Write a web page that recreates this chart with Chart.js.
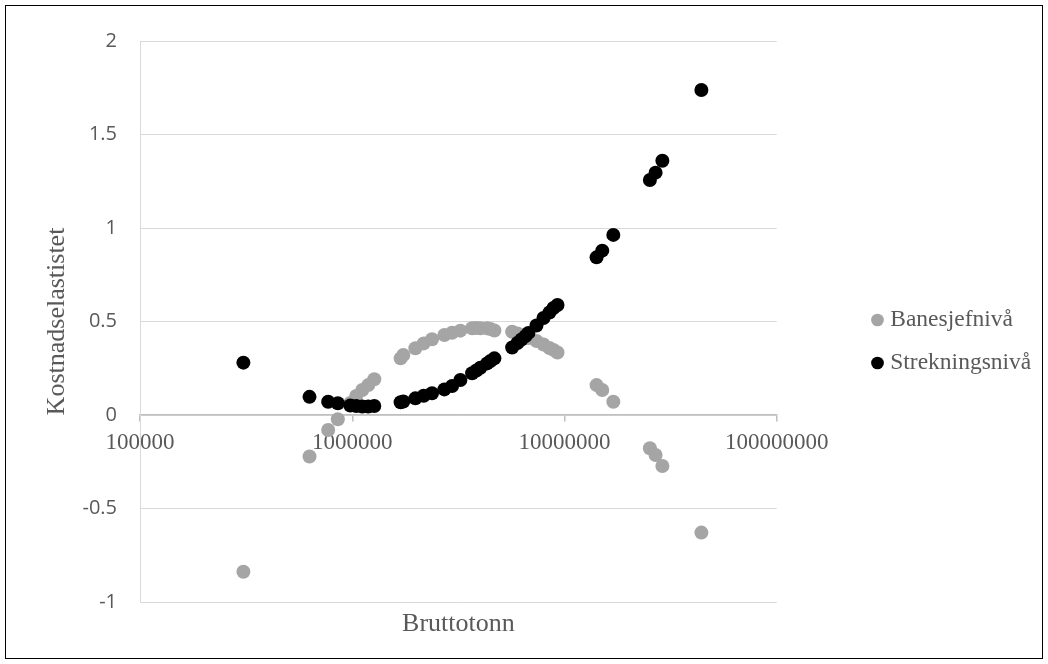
<!DOCTYPE html>
<html>
<head>
<meta charset="utf-8">
<script src="https://cdn.jsdelivr.net/npm/chart.js@4.4.1/dist/chart.umd.min.js"></script>
<style>
  html, body { margin: 0; padding: 0; background: #fff; overflow: hidden; }
  canvas { display: block; }
</style>
</head>
<body>
<canvas id="chart" width="1048" height="664"></canvas>
<script>
// Gross tonnage per observation (shared by both series)
const bruttotonn = [
  307000, 629000, 770000, 855000, 979000, 1044000, 1115000, 1190000, 1270000,
  1690000, 1740000, 1983000, 2170000, 2376000, 2716000, 2953000, 3231000, 3670000,
  3845000, 4015000, 4318000, 4477000, 4674000,
  5666000, 6000000, 6270000, 6548000, 6761000, 7380000, 7961000, 8493000, 8872000, 9270000,
  14160000, 15060000, 16980000, 25250000, 26860000, 28910000, 44150000
];

// Cost elasticity, track-manager level
const banesjefniva = [
  -0.838, -0.222, -0.080, -0.023, 0.064, 0.102, 0.134, 0.160, 0.191,
  0.303, 0.321, 0.357, 0.383, 0.405, 0.428, 0.440, 0.451, 0.464,
  0.465, 0.464, 0.464, 0.460, 0.452,
  0.445, 0.436, 0.428, 0.420, 0.412, 0.396, 0.377, 0.358, 0.348, 0.334,
  0.160, 0.134, 0.071, -0.178, -0.214, -0.273, -0.629
];

// Cost elasticity, line-section level
const strekningsniva = [
  0.280, 0.097, 0.071, 0.063, 0.051, 0.048, 0.045, 0.045, 0.048,
  0.068, 0.072, 0.089, 0.103, 0.116, 0.137, 0.155, 0.187, 0.223,
  0.238, 0.253, 0.276, 0.289, 0.303,
  0.361, 0.385, 0.404, 0.422, 0.439, 0.479, 0.519, 0.548, 0.572, 0.588,
  0.843, 0.879, 0.963, 1.257, 1.296, 1.360, 1.738
];

const seriesNames = ['Banesjefnivå', 'Strekningsnivå'];
const xTickValues = [1e5, 1e6, 1e7, 1e8];
const xTickLabels = ['100000', '1000000', '10000000', '100000000'];
const yTickValues = [-1, -0.5, 0, 0.5, 1, 1.5, 2];
const yTickLabels = ['-1', '-0.5', '0', '0.5', '1', '1.5', '2'];

const serif = "'Liberation Serif', 'Times New Roman', serif";
const sans = "'Open Sans', 'Liberation Sans', sans-serif";
const textGrey = '#595959';

const toPoints = ys => bruttotonn.map((x, i) => ({ x: x, y: ys[i] }));

// White background and thin black frame round the whole chart
const frame = {
  id: 'frame',
  beforeDraw(chart) {
    const c = chart.ctx;
    c.save();
    c.fillStyle = '#fff';
    c.fillRect(0, 0, chart.width, chart.height);
    c.strokeStyle = '#000';
    c.lineWidth = 1;
    c.strokeRect(5.5, 5.5, chart.width - 11, chart.height - 11);
    c.restore();
  }
};

// Moves the legend block further right, away from the plot area
const legendLeft = 857;
const legendPlacement = {
  id: 'legendPlacement',
  afterLayout(chart) {
    const lg = chart.legend;
    if (!lg) return;
    const w = lg.right - lg.left;
    lg.left = legendLeft;
    lg.right = legendLeft + w;
  }
};

new Chart(document.getElementById('chart'), {
  type: 'scatter',
  data: {
    datasets: [
      {
        label: seriesNames[0],
        data: toPoints(banesjefniva),
        backgroundColor: '#a5a5a5',
        borderColor: '#a5a5a5',
        pointBackgroundColor: '#a5a5a5',
        pointBorderColor: '#a5a5a5',
        pointBorderWidth: 0,
        borderWidth: 0,
        pointRadius: 7,
        pointHoverRadius: 7,
        order: 1,
        xAxisID: 'x',
        yAxisID: 'y'
      },
      {
        label: seriesNames[1],
        data: toPoints(strekningsniva),
        backgroundColor: '#000000',
        borderColor: '#000000',
        pointBackgroundColor: '#000000',
        pointBorderColor: '#000000',
        pointBorderWidth: 0,
        borderWidth: 0,
        pointRadius: 7,
        pointHoverRadius: 7,
        order: 0,
        xAxisID: 'x',
        yAxisID: 'y'
      }
    ]
  },
  options: {
    responsive: false,
    animation: false,
    devicePixelRatio: 1,
    layout: { padding: { left: 10, top: 41, right: 87, bottom: 22 } },
    plugins: {
      legend: {
        position: 'right',
        labels: {
          usePointStyle: true,
          pointStyle: 'circle',
          boxWidth: 2,
          boxHeight: 9,
          padding: 19.5,
          color: textGrey,
          font: { family: serif, size: 23.5 },
          sort: (a, b) => a.datasetIndex - b.datasetIndex
        }
      },
      tooltip: { enabled: false }
    },
    scales: {
      x: {
        type: 'logarithmic',
        position: { y: 0 },
        min: xTickValues[0],
        max: xTickValues[xTickValues.length - 1],
        afterBuildTicks: s => { s.ticks = xTickValues.map(v => ({ value: v })); },
        ticks: {
          autoSkip: false,
          maxRotation: 0,
          padding: 8,
          color: textGrey,
          font: { family: serif, size: 23 },
          callback: (v, i) => xTickLabels[i]
        },
        grid: { drawOnChartArea: false, drawTicks: true, tickLength: 6, color: '#bfbfbf', lineWidth: 1.5 },
        border: { color: '#bfbfbf', width: 1.5 }
      },
      xTitle: {
        type: 'linear',
        axis: 'x',
        position: 'bottom',
        afterFit: s => { s.height = 40; },
        ticks: { display: false },
        grid: { display: false },
        border: { display: false },
        title: {
          display: true,
          text: 'Bruttotonn',
          color: textGrey,
          font: { family: serif, size: 26 },
          padding: { top: 0, bottom: 2 }
        }
      },
      y: {
        type: 'linear',
        min: yTickValues[0],
        max: yTickValues[yTickValues.length - 1],
        afterFit: s => { s.width = 130; },
        afterBuildTicks: s => { s.ticks = yTickValues.map(v => ({ value: v })); },
        ticks: {
          padding: 23,
          color: textGrey,
          font: { family: sans, size: 20 },
          callback: (v, i) => yTickLabels[i]
        },
        grid: { color: '#d9d9d9', lineWidth: 1, drawTicks: false },
        border: { color: '#d9d9d9', width: 1 },
        title: {
          display: true,
          text: 'Kostnadselastistet',
          color: textGrey,
          font: { family: serif, size: 26 },
          padding: { top: 32, bottom: 0 }
        }
      }
    }
  },
  plugins: [frame, legendPlacement]
});
</script>
</body>
</html>
